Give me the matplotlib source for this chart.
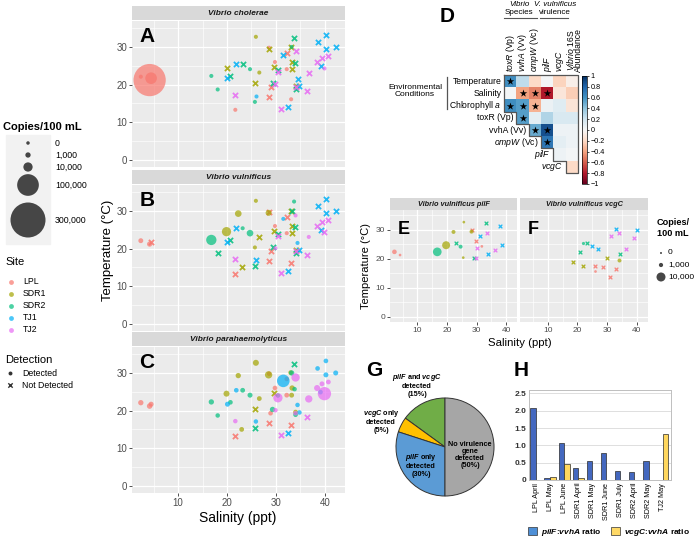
import numpy as np
import matplotlib
matplotlib.use("Agg")
import matplotlib.pyplot as plt
from matplotlib.patches import Patch, Rectangle

plt.rcParams["font.family"] = ["Liberation Sans", "DejaVu Sans"]
plt.rcParams["mathtext.fontset"] = "custom"
plt.rcParams["mathtext.rm"] = "Liberation Sans"
plt.rcParams["mathtext.it"] = "Liberation Sans:italic"
plt.rcParams["mathtext.bf"] = "Liberation Sans:bold"
plt.rcParams["mathtext.bfit"] = "Liberation Sans:bold:italic"

# ---- data: panels A-C (same samples, copies per species; 0 = not detected, nan = not measured)
SITES = ["LPL", "SDR1", "SDR2", "TJ1", "TJ2"]
COLORS = {"LPL": "#F8766D", "SDR1": "#A3A500", "SDR2": "#00BF7D", "TJ1": "#00B0F6", "TJ2": "#E76BF3"}
site = np.repeat(SITES, [11, 12, 12, 12, 12])
salinity = [2.4, 4.2, 4.5, 28.6, 32.2, 29.8, 32.2, 28.9, 28.6, 33.1, 21.7,
            25.9, 22.3, 28.5, 33.0, 33.3, 29.6, 33.2, 19.9, 26.6, 25.7, 34.0, 23.0,
            33.7, 33.2, 33.8, 30.4, 23.2, 24.7, 16.8, 20.7, 29.3, 34.0, 18.1, 25.7,
            40.2, 38.5, 40.2, 42.2, 31.5, 39.1, 21.9, 20.1, 34.4, 34.8, 25.9, 32.4,
            34.0, 40.7, 39.4, 38.4, 39.9, 30.4, 36.7, 29.9, 34.0, 36.4, 21.7, 31.1]
temperature = [22.1, 21.2, 21.7, 29.8, 28.4, 26.0, 24.1, 19.3, 16.7, 16.1, 13.3,
               32.7, 29.3, 29.5, 30.1, 26.0, 24.6, 24.1, 24.5, 23.2, 20.3, 19.6, 15.0,
               32.5, 30.0, 25.7, 24.0, 25.4, 24.1, 22.3, 22.2, 20.3, 18.9, 18.7, 15.4,
               33.2, 31.2, 29.5, 30.0, 27.9, 24.9, 25.4, 21.7, 21.5, 19.5, 17.1, 14.1,
               28.8, 27.6, 27.1, 26.0, 24.5, 23.4, 23.1, 20.1, 19.3, 18.4, 17.2, 13.5]
nan = np.nan
copies_vc = [100, 250000, 20000, 100, 0, 100, 100, 0, 0, 100, 100,
             100, nan, 0, 0, 0, 0, 0, 0, 100, 0, 0, nan,
             0, 100, 0, 0, 0, 100, 100, 0, 0, 0, 100, 100,
             0, 0, 0, 0, 0, 0, 0, 0, 0, 0, 100, 0,
             0, 0, 0, 0, 100, 0, 0, 0, 0, 0, 0, 0]
copies_vv = [600, 900, 0, 0, 0, 100, 100, 0, 0, 0, 0,
             100, 3000, 1900, 0, 0, 0, 0, 10000, 0, 100, 0, 0,
             100, 0, 0, 0, 100, 3000, 14000, 0, 0, 0, 0, 0,
             0, 0, 0, 0, 100, 0, 0, 0, 100, 0, 0, 0,
             100, 0, 0, 0, 0, 0, 100, 100, 0, 0, 0, 0]
copies_vp = [1000, 1200, 700, 300, 300, 400, 500, 400, 0, 0, 0,
             1900, 1000, 4400, 400, 1000, 0, 600, 1900, 500, 0, 500, 500,
             0, 1000, 300, 300, 500, 700, 1000, 400, 1000, 400, 300, 0,
             400, 400, 700, 700, 25000, 400, 400, 700, 300, 300, 300, 0,
             7000, 500, 600, 1900, 29000, 10000, 4400, 300, 300, 0, 300, 0]

# ---- panel E (pilF) and F (vcgC)
e_site = np.repeat(SITES, [5, 5, 5, 4, 4])
e_sal = [2.2, 4.1, 28.3, 29.7, 31.8, 25.7, 22.2, 28.3, 19.7, 25.5,
         33.3, 23.0, 24.6, 16.7, 29.0, 38.0, 31.1, 38.6, 34.0, 33.6, 30.1, 36.3, 29.8]
e_temp = [22.4, 21.3, 30.0, 26.1, 24.3, 32.7, 29.3, 29.4, 24.7, 20.4,
          32.5, 25.5, 24.2, 22.4, 20.4, 31.3, 27.9, 24.9, 21.5, 28.9, 23.6, 23.2, 20.1]
e_copies = [1400, 100, 0, 0, 100, 100, 800, 800, 7300, 100,
            0, 0, 800, 9100, 0, 0, 0, 0, 0, 0, 0, 0, 0]
f_site = np.repeat(SITES, [5, 4, 4, 4, 4])
f_sal = [26.0, 28.7, 26.0, 33.0, 31.0, 18.4, 21.8, 30.0, 33.8,
         22.0, 23.3, 20.9, 34.2, 32.9, 39.9, 24.9, 26.8, 31.3, 33.8, 39.1, 36.4]
f_temp = [17.5, 17.1, 15.9, 16.5, 13.8, 18.9, 17.6, 20.3, 19.6,
          25.5, 25.4, 22.4, 21.6, 30.4, 29.9, 24.3, 23.3, 28.0, 29.0, 27.3, 23.3]
f_copies = [0, 0, 100, 0, 0, 0, 0, 0, 800,
            300, 0, 0, 0, 0, 0, 0, 0, 0, 0, 0, 0]

# ---- panel D correlations
row_labels = ["Temperature", "Salinity", r"Chlorophyll $\it{a}$", "toxR (Vp)", "vvhA (Vv)",
              r"$\it{ompW}$ (Vc)", r"$\it{pilF}$", r"$\it{vcgC}$"]
col_labels = [r"$\it{toxR}$ (Vp)", r"$\it{vvhA}$ (Vv)", r"$\it{ompW}$ (Vc)", r"$\it{pilF}$",
              r"$\it{vcgC}$", "$\\it{Vibrio}$ 16S\nAbundance"]
corr = np.array([
    [0.62, 0.25, -0.20, 0.02, -0.22, -0.06],
    [0.02, -0.40, -0.50, -0.80, -0.12, -0.25],
    [0.62, 0.55, -0.35, 0.06, 0.12, -0.13],
    [nan, 0.55, 0.10, 0.30, 0.15, 0.15],
    [nan, nan, 0.50, 0.88, 0.05, 0.05],
    [nan, nan, nan, 0.72, 0.10, 0.05],
    [nan, nan, nan, nan, 0.05, 0.02],
    [nan, nan, nan, nan, nan, -0.20]])
row_start = [0, 0, 0, 1, 2, 3, 4, 5]
signif = [(0, 0), (1, 1), (1, 2), (1, 3), (2, 0), (2, 1), (2, 2), (3, 1), (4, 2), (4, 3), (5, 3)]

# ---- panel G and H
pie_values = [15, 5, 30, 50]
pie_colors = ["#70ad47", "#ffc000", "#5b9bd5", "#a6a6a6"]
h_labels = ["LPL April", "LPL May", "LPL June", "SDR1 April", "SDR1 May", "SDR1 June",
            "SDR1 July", "SDR2 April", "SDR2 May", "TJ2 May"]
pilf_vvha = [2.07, 0.05, 1.07, 0.34, 0.56, 0.77, 0.26, 0.23, 0.54, 0.0]
vcgc_vvha = [0.0, 0.10, 0.46, 0.05, 0.0, 0.0, 0.0, 0.0, 0.0, 1.34]

W, H = 696, 539
fig = plt.figure(figsize=(W / 100, H / 100), dpi=100)


def box(x0, y0, x1, y1):
    return [x0 / W, 1 - y1 / H, (x1 - x0) / W, (y1 - y0) / H]


def size_big(v):
    return ((3.5 + 31.5 * np.sqrt(np.asarray(v, float) / 3e5)) * 0.72) ** 2


def size_small(v):
    return ((2 + 7 * np.sqrt(np.asarray(v, float) / 1e4)) * 0.72) ** 2


# overlay in pixel coords for labels and legends, drawn on top
ov = fig.add_axes([0, 0, 1, 1])
ov.set_xlim(0, W)
ov.set_ylim(H, 0)
ov.axis("off")
ov.set_zorder(10)


def style(ax, fs=7, xlab=True, ylab=True):
    ax.set_facecolor("#ebebeb")
    for sp in ax.spines.values():
        sp.set_visible(False)
    ax.set_xlim(0.6, 44.1)
    ax.set_ylim(-1.9, 36.9)
    ax.set_xticks([10, 20, 30, 40])
    ax.set_xticks([5, 15, 25, 35], minor=True)
    ax.set_yticks([0, 10, 20, 30])
    ax.set_yticks([5, 15, 25, 35], minor=True)
    ax.grid(which="major", color="white", lw=0.9)
    ax.grid(which="minor", color="white", lw=0.45)
    ax.set_axisbelow(True)
    ax.tick_params(which="major", length=2.5, width=0.6, color="#333333",
                   labelcolor="#4d4d4d", labelsize=fs, pad=1)
    ax.tick_params(which="minor", length=0)
    if not xlab:
        ax.tick_params(axis="x", which="both", bottom=False, labelbottom=False)
    if not ylab:
        ax.tick_params(axis="y", which="both", left=False, labelleft=False)


def strip(x0, y0, x1, y1, text, fs):
    sa = fig.add_axes(box(x0, y0, x1, y1))
    sa.set_facecolor("#d9d9d9")
    sa.set_xticks([])
    sa.set_yticks([])
    for sp in sa.spines.values():
        sp.set_visible(False)
    sa.text(0.5, 0.45, text, ha="center", va="center", fontsize=fs,
            fontstyle="italic", fontweight="bold", color="#1a1a1a")


def points(ax, sal, temp, sites, copies, sizefn, xs, xlw):
    sal = np.asarray(sal, float)
    temp = np.asarray(temp, float)
    copies = np.asarray(copies, float)
    for name in SITES:
        m = sites == name
        det = m & (copies > 0)
        nd = m & (copies == 0)
        ax.scatter(sal[det], temp[det], s=sizefn(copies[det]), color=COLORS[name],
                   alpha=0.7, linewidths=0, zorder=3)
        ax.scatter(sal[nd], temp[nd], s=xs, marker="x", color=COLORS[name],
                   alpha=0.85, linewidths=xlw, zorder=3)


# ---- A, B, C
panels = [("A", "Vibrio cholerae", copies_vc, 6, 21),
          ("B", "Vibrio vulnificus", copies_vv, 170, 185),
          ("C", "Vibrio parahaemolyticus", copies_vp, 332, 347)]
for letter, title, cop, ys, yp in panels:
    strip(132, ys, 345, yp - 1, title, 6)
    ax = fig.add_axes(box(132, yp, 345, yp + 146))
    style(ax, fs=7, xlab=(letter == "C"))
    points(ax, salinity, temperature, site, cop, size_big, 14, 1.3)
    ax.text(0.035, 0.96, letter, transform=ax.transAxes, ha="left", va="top",
            fontsize=15, fontweight="bold")

ov.text(108, 250, "Temperature (°C)", rotation=90, ha="center", va="center", fontsize=9.5)
ov.text(238, 518, "Salinity (ppt)", ha="center", va="center", fontsize=10)

# left legends
ov.text(3, 127, "Copies/100 mL", ha="left", va="center", fontsize=8, fontweight="bold")
ov.add_patch(Rectangle((6, 135), 44, 109, color="#f2f2f2", zorder=0))
key_vals = [0, 1000, 10000, 100000, 300000]
key_y = [143, 155, 167, 185, 220]
ov.scatter([28] * 5, key_y, s=size_big(key_vals), color="#333333", alpha=0.9, linewidths=0)
for v, y in zip(["0", "1,000", "10,000", "100,000", "300,000"], key_y):
    ov.text(55, y, v, ha="left", va="center", fontsize=6.3)
ov.text(5, 262, "Site", ha="left", va="center", fontsize=8)
for i, name in enumerate(SITES):
    y = 282 + 12 * i
    ov.scatter([11], [y], s=12, color=COLORS[name], alpha=0.7, linewidths=0)
    ov.text(23, y, name, ha="left", va="center", fontsize=6.3)
ov.text(5, 360, "Detection", ha="left", va="center", fontsize=8)
ov.scatter([10], [373], s=8, color="#333333", linewidths=0)
ov.scatter([10], [385], s=10, marker="x", color="#333333", linewidths=1)
ov.text(22, 373, "Detected", ha="left", va="center", fontsize=6.3)
ov.text(22, 385, "Not Detected", ha="left", va="center", fontsize=6.3)

# ---- D heatmap
axd = fig.add_axes(box(504, 75, 578, 173))
im = axd.imshow(np.ma.masked_invalid(corr), cmap="RdBu", vmin=-1, vmax=1,
                aspect="auto", extent=(0, 6, 8, 0), interpolation="nearest")
axd.set_xlim(0, 6)
axd.set_ylim(8, 0)
axd.axis("off")
for r, c in signif:
    axd.scatter(c + 0.5, r + 0.5, marker="*", s=32, color="black", linewidths=0, zorder=4)
stair_x = [0, 0, 1, 1, 2, 2, 3, 3, 4, 4, 5, 5, 6, 6, 0]
stair_y = [0, 3, 3, 4, 4, 5, 5, 6, 6, 7, 7, 8, 8, 0, 0]
axd.plot(stair_x, stair_y, color="#555555", lw=0.9, clip_on=False)
for j, lab in enumerate(col_labels):
    xo = 0.68 if j == 5 else 0.5
    axd.text(j + xo, -0.25, lab, rotation=90, ha="center", va="bottom", fontsize=6.2,
             clip_on=False, linespacing=0.8)
for i, lab in enumerate(row_labels):
    axd.text(row_start[i] - 0.2, i + 0.5, lab, ha="right", va="center", fontsize=6.2, clip_on=False)

cax = fig.add_axes(box(582, 76, 587, 184))
cb = fig.colorbar(im, cax=cax, ticks=np.linspace(-1, 1, 11))
cb.ax.set_yticklabels(["\u22121", "\u22120.8", "\u22120.6", "\u22120.4", "\u22120.2", "0",
                       "0.2", "0.4", "0.6", "0.8", "1"])
cb.ax.tick_params(labelsize=5.2, length=1.5, width=0.5, pad=1)
cb.outline.set_linewidth(0.5)

ov.text(447, 17, "D", ha="center", va="center", fontsize=15, fontweight="bold")
ov.text(519, 5, "Vibrio", ha="center", va="center", fontsize=5.8, fontstyle="italic")
ov.text(519, 13, "Species", ha="center", va="center", fontsize=5.8)
ov.plot([504, 537], [18, 18], color="#555555", lw=0.8)
ov.text(555, 5, "V. vulnificus", ha="center", va="center", fontsize=5.8, fontstyle="italic")
ov.text(555, 13, "virulence", ha="center", va="center", fontsize=5.8)
ov.plot([540, 568], [18, 18], color="#555555", lw=0.8)
ov.text(415, 91, "Environmental\nConditions", ha="center", va="center", fontsize=6, linespacing=1.1)
ov.plot([447, 447], [77, 109], color="#555555", lw=0.9)

# ---- E, F
for letter, title, xs0, xs1, ss, tt, cc, st in [
        ("E", "Vibrio vulnificus pilF", 390, 517, e_sal, e_temp, e_copies, e_site),
        ("F", "Vibrio vulnificus vcgC", 520, 648, f_sal, f_temp, f_copies, f_site)]:
    strip(xs0, 198, xs1, 209.5, title, 5.3)
    ax = fig.add_axes(box(xs0, 210, xs1, 322))
    style(ax, fs=6, ylab=(letter == "E"))
    ax.set_xlim(0.7, 43.7)
    points(ax, ss, tt, st, cc, size_small, 7, 0.9)
    ax.text(0.06, 0.9, letter, transform=ax.transAxes, ha="left", va="top",
            fontsize=13, fontweight="bold")

ov.text(366, 266, "Temperature (°C)", rotation=90, ha="center", va="center", fontsize=8)
ov.text(520, 343, "Salinity (ppt)", ha="center", va="center", fontsize=8.2)
ov.text(657, 228, "Copies/\n100 mL", ha="left", va="center", fontsize=6.6,
        fontweight="bold", linespacing=1.3)
f_keys = [0, 1000, 10000]
f_key_y = [253, 265, 277]
ov.scatter([661] * 3, f_key_y, s=size_small(f_keys), color="#333333", alpha=0.9, linewidths=0)
for v, y in zip(["0", "1,000", "10,000"], f_key_y):
    ov.text(668, y, v, ha="left", va="center", fontsize=6)

# ---- G pie
axg = fig.add_axes(box(395, 397, 495, 497))
axg.pie(pie_values, colors=pie_colors, startangle=90, counterclock=True,
        wedgeprops=dict(edgecolor="#333333", linewidth=0.7))
axg.set_xlim(-1.02, 1.02)
axg.set_ylim(-1.02, 1.02)
ov.text(374, 371, "G", ha="center", va="center", fontsize=15, fontweight="bold")
pfs = 5.2
ov.text(417, 385, "$\\mathbfit{pilF}$ and $\\mathbfit{vcgC}$\ndetected\n(15%)", ha="center",
        va="center", fontsize=pfs, fontweight="bold", linespacing=1.05)
ov.text(381, 421, "$\\mathbfit{vcgC}$ only\ndetected\n(5%)", ha="center", va="center",
        fontsize=pfs, fontweight="bold", linespacing=1.05)
ov.text(421, 465, "$\\mathbfit{pilF}$ only\ndetected\n(30%)", ha="center", va="center",
        fontsize=pfs, fontweight="bold", linespacing=1.05)
ov.text(470, 455, "No virulence\ngene\ndetected\n(50%)", ha="center", va="center",
        fontsize=pfs, fontweight="bold", linespacing=1.05)

# ---- H bars
axh = fig.add_axes(box(529, 390, 671, 480))
x = np.arange(len(h_labels))
axh.bar(x - 0.2, pilf_vvha, 0.4, color="#4468bf", edgecolor="#2b2b2b", lw=0.5, zorder=3)
axh.bar(x + 0.2, vcgc_vvha, 0.4, color="#ffd75e", edgecolor="#2b2b2b", lw=0.5, zorder=3)
axh.set_xlim(-0.5, 9.6)
axh.set_ylim(0, 2.6)
axh.set_yticks([0, 0.5, 1.0, 1.5, 2.0, 2.5])
axh.set_yticklabels(["0", "0.5", "1.0", "1.5", "2.0", "2.5"], fontweight="bold")
axh.set_xticks(x)
axh.set_xticklabels(h_labels, rotation=90, fontsize=5.2)
axh.tick_params(axis="y", labelsize=6, length=0, pad=2, labelcolor="#333333")
axh.tick_params(axis="x", length=0, pad=2)
axh.grid(axis="y", color="#d9d9d9", lw=0.6)
axh.set_axisbelow(True)
for sp in axh.spines.values():
    sp.set_color("#bfbfbf")
    sp.set_linewidth(0.7)
ov.text(521, 371, "H", ha="center", va="center", fontsize=15, fontweight="bold")
handles = [Patch(facecolor="#4e8fd6", edgecolor="#333333", lw=0.5),
           Patch(facecolor="#ffd966", edgecolor="#333333", lw=0.5)]
fig.legend(handles, ["$\\mathbfit{pilF}$:$\\mathbfit{vvhA}$ ratio",
                     "$\\mathbfit{vcgC}$:$\\mathbfit{vvhA}$ ratio"],
           loc="center", bbox_to_anchor=(609 / W, 1 - 532 / H), ncol=2, frameon=False,
           prop={"weight": "bold", "size": 6}, handlelength=1.1, handleheight=1.1,
           columnspacing=1.2, handletextpad=0.4, borderpad=0)

fig.savefig("out.png", dpi=100)
